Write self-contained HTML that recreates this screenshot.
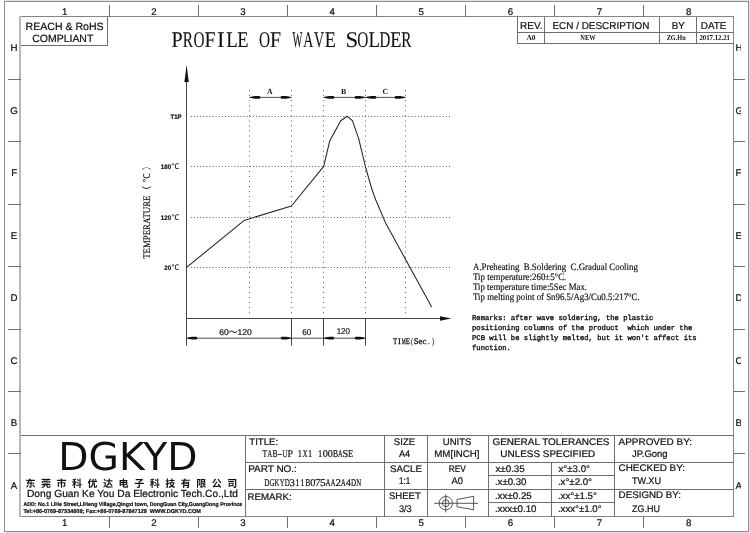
<!DOCTYPE html>
<html lang="zh">
<head>
<meta charset="utf-8">
<title>PROFILE OF WAVE SOLDER</title>
<style>
html,body{margin:0;padding:0;background:#fff;}
body{width:750px;height:533px;overflow:hidden;}
svg{display:block;will-change:transform;}
text{white-space:pre;}
.a{font-family:"Liberation Sans",sans-serif;stroke:#111;stroke-width:0.22px;}
.a2{font-family:"Liberation Sans","Noto Sans CJK SC",sans-serif;stroke:#111;stroke-width:0.2px;}
.s{font-family:"Liberation Serif",serif;}
.m{font-family:"Liberation Serif","Noto Serif CJK SC",serif;}
.k{font-family:"Liberation Mono",monospace;}
.d{font-family:"DejaVu Sans","Liberation Sans",sans-serif;}
.n{font-family:"Liberation Sans","Noto Sans CJK SC",sans-serif;}
</style>
</head>
<body>
<svg width="750" height="533" viewBox="0 0 750 533" text-rendering="geometricPrecision">
<rect width="750" height="533" fill="#fff"/>
<g shape-rendering="crispEdges" fill="none" stroke="#6e6e6e" stroke-width="1">
<path stroke="#8e8e8e" d="M4.5 1.5H748.5V531.5H4.5Z"/>
<path stroke="#e2e2e2" d="M4 0.5H750M5 532.5H750M749.5 1V533"/>
<path stroke="#858585" d="M20 16.5H733.5V516.5H20"/>
<path stroke="#b8b8b8" stroke-width="2" d="M20 16V517"/>
<path d="M109.5 4.5V16.5M109.5 516.5V527.5"/>
<path d="M8 79.5H20.5M733.5 79.5H745"/>
<path d="M198.5 4.5V16.5M198.5 516.5V527.5"/>
<path d="M8 141.5H20.5M733.5 141.5H745"/>
<path d="M287.5 4.5V16.5M287.5 516.5V527.5"/>
<path d="M8 204.5H20.5M733.5 204.5H745"/>
<path d="M376.5 4.5V16.5M376.5 516.5V527.5"/>
<path d="M8 266.5H20.5M733.5 266.5H745"/>
<path d="M465.5 4.5V16.5M465.5 516.5V527.5"/>
<path d="M8 329.5H20.5M733.5 329.5H745"/>
<path d="M554.5 4.5V16.5M554.5 516.5V527.5"/>
<path d="M8 391.5H20.5M733.5 391.5H745"/>
<path d="M643.5 4.5V16.5M643.5 516.5V527.5"/>
<path d="M8 453.5H20.5M733.5 453.5H745"/>
<path d="M20.5 45.5H107.5V16.5"/>
<path d="M517.5 16.5V43.5H733.5M517.5 32.5H733.5M544.5 16.5V43.5M659.5 16.5V43.5M696.5 16.5V43.5"/>
<path d="M20.5 435.5H733.5M245.5 435.5V516.5M384.5 435.5V516.5M427.5 435.5V516.5M488.5 435.5V516.5M614.5 435.5V516.5M551.5 462.5V516.5"/>
<path d="M245.5 462.5H733.5M245.5 489.5H733.5M488.5 475.5H614.5M488.5 502.5H614.5"/>
</g>
<svg x="0" y="8.6" width="750" height="8" viewBox="0 8.6 750 8" overflow="hidden">
<text class="a" x="64.8" y="15" font-size="9.7" text-anchor="middle" fill="#111" >1</text>
<text class="a" x="153.9" y="15" font-size="9.7" text-anchor="middle" fill="#111" >2</text>
<text class="a" x="243.0" y="15" font-size="9.7" text-anchor="middle" fill="#111" >3</text>
<text class="a" x="332.1" y="15" font-size="9.7" text-anchor="middle" fill="#111" >4</text>
<text class="a" x="421.3" y="15" font-size="9.7" text-anchor="middle" fill="#111" >5</text>
<text class="a" x="510.4" y="15" font-size="9.7" text-anchor="middle" fill="#111" >6</text>
<text class="a" x="599.5" y="15" font-size="9.7" text-anchor="middle" fill="#111" >7</text>
<text class="a" x="688.6" y="15" font-size="9.7" text-anchor="middle" fill="#111" >8</text>
</svg>
<text class="a" x="64.8" y="526" font-size="9.7" text-anchor="middle" fill="#111" >1</text>
<text class="a" x="14.1" y="51.0" font-size="9.7" text-anchor="middle" fill="#111" >H</text>
<text class="a" x="153.9" y="526" font-size="9.7" text-anchor="middle" fill="#111" >2</text>
<text class="a" x="14.1" y="113.5" font-size="9.7" text-anchor="middle" fill="#111" >G</text>
<text class="a" x="243.0" y="526" font-size="9.7" text-anchor="middle" fill="#111" >3</text>
<text class="a" x="14.1" y="176.1" font-size="9.7" text-anchor="middle" fill="#111" >F</text>
<text class="a" x="332.1" y="526" font-size="9.7" text-anchor="middle" fill="#111" >4</text>
<text class="a" x="14.1" y="238.6" font-size="9.7" text-anchor="middle" fill="#111" >E</text>
<text class="a" x="421.3" y="526" font-size="9.7" text-anchor="middle" fill="#111" >5</text>
<text class="a" x="14.1" y="301.1" font-size="9.7" text-anchor="middle" fill="#111" >D</text>
<text class="a" x="510.4" y="526" font-size="9.7" text-anchor="middle" fill="#111" >6</text>
<text class="a" x="14.1" y="363.6" font-size="9.7" text-anchor="middle" fill="#111" >C</text>
<text class="a" x="599.5" y="526" font-size="9.7" text-anchor="middle" fill="#111" >7</text>
<text class="a" x="14.1" y="426.1" font-size="9.7" text-anchor="middle" fill="#111" >B</text>
<text class="a" x="688.6" y="526" font-size="9.7" text-anchor="middle" fill="#111" >8</text>
<text class="a" x="14.1" y="488.6" font-size="9.7" text-anchor="middle" fill="#111" >A</text>
<svg x="734" y="0" width="7.0" height="533" overflow="hidden">
<text class="a" x="1.5" y="51.0" font-size="9.7" fill="#111" >H</text>
<text class="a" x="1.5" y="113.5" font-size="9.7" fill="#111" >G</text>
<text class="a" x="1.5" y="176.1" font-size="9.7" fill="#111" >F</text>
<text class="a" x="1.5" y="238.6" font-size="9.7" fill="#111" >E</text>
<text class="a" x="1.5" y="301.1" font-size="9.7" fill="#111" >D</text>
<text class="a" x="1.5" y="363.6" font-size="9.7" fill="#111" >C</text>
<text class="a" x="1.5" y="426.1" font-size="9.7" fill="#111" >B</text>
<text class="a" x="1.5" y="488.6" font-size="9.7" fill="#111" >A</text>
</svg>
<text class="a" x="64.6" y="29.8" font-size="10.5" text-anchor="middle" textLength="78" lengthAdjust="spacingAndGlyphs" fill="#111" >REACH &amp; RoHS</text>
<text class="a" x="62.8" y="41.7" font-size="10.5" text-anchor="middle" textLength="61" lengthAdjust="spacingAndGlyphs" fill="#111" >COMPLIANT</text>
<text class="a" x="531.2" y="29.3" font-size="10" text-anchor="middle" textLength="22.5" lengthAdjust="spacingAndGlyphs" fill="#111" >REV.</text>
<text class="a" x="601" y="29.3" font-size="10" text-anchor="middle" textLength="97" lengthAdjust="spacingAndGlyphs" fill="#111" >ECN / DESCRIPTION</text>
<text class="a" x="678.2" y="29.3" font-size="10" text-anchor="middle" textLength="13" lengthAdjust="spacingAndGlyphs" fill="#111" >BY</text>
<text class="a" x="713.6" y="29.3" font-size="10" text-anchor="middle" textLength="25.5" lengthAdjust="spacingAndGlyphs" fill="#111" >DATE</text>
<text class="s" x="531" y="40.4" font-size="7.5" text-anchor="middle" font-weight="bold" fill="#111" >A0</text>
<text class="s" x="588" y="40.4" font-size="7.5" text-anchor="middle" textLength="15.4" lengthAdjust="spacingAndGlyphs" font-weight="bold" fill="#111" >NEW</text>
<text class="s" x="676.2" y="40.4" font-size="7.5" text-anchor="middle" textLength="19" lengthAdjust="spacingAndGlyphs" font-weight="bold" fill="#111" >ZG.Hu</text>
<text class="s" x="714.7" y="40.4" font-size="7.5" text-anchor="middle" textLength="30.5" lengthAdjust="spacingAndGlyphs" font-weight="bold" fill="#111" >2017.12.21</text>
<text class="s" y="46.9" font-size="22.4" fill="#111" xml:space="preserve" stroke="#111" stroke-width="0.1"><tspan x="171.61" textLength="11.14" lengthAdjust="spacingAndGlyphs">P</tspan><tspan x="182.67" textLength="10.21" lengthAdjust="spacingAndGlyphs">R</tspan><tspan x="193.39" textLength="11.05" lengthAdjust="spacingAndGlyphs">O</tspan><tspan x="204.40" textLength="11.04" lengthAdjust="spacingAndGlyphs">F</tspan><tspan x="216.96" textLength="7.60" lengthAdjust="spacingAndGlyphs">I</tspan><tspan x="226.30" textLength="11.41" lengthAdjust="spacingAndGlyphs">L</tspan><tspan x="237.23" textLength="11.22" lengthAdjust="spacingAndGlyphs">E</tspan> <tspan x="258.97" textLength="11.05" lengthAdjust="spacingAndGlyphs">O</tspan><tspan x="269.98" textLength="11.04" lengthAdjust="spacingAndGlyphs">F</tspan> <tspan x="292.38" textLength="9.86" lengthAdjust="spacingAndGlyphs">W</tspan><tspan x="303.18" textLength="10.01" lengthAdjust="spacingAndGlyphs">A</tspan><tspan x="314.11" textLength="10.07" lengthAdjust="spacingAndGlyphs">V</tspan><tspan x="324.67" textLength="11.22" lengthAdjust="spacingAndGlyphs">E</tspan> <tspan x="345.61" textLength="12.63" lengthAdjust="spacingAndGlyphs">S</tspan><tspan x="357.34" textLength="11.05" lengthAdjust="spacingAndGlyphs">O</tspan><tspan x="368.39" textLength="11.41" lengthAdjust="spacingAndGlyphs">L</tspan><tspan x="379.41" textLength="10.83" lengthAdjust="spacingAndGlyphs">D</tspan><tspan x="390.25" textLength="11.22" lengthAdjust="spacingAndGlyphs">E</tspan><tspan x="401.27" textLength="10.21" lengthAdjust="spacingAndGlyphs">R</tspan></text>
<g fill="none" stroke="#5c5c5c" stroke-width="1">
<line x1="190.83" y1="116.5" x2="452" y2="116.5" stroke-dasharray="1 2.11"/>
<line x1="190.83" y1="166.5" x2="452" y2="166.5" stroke-dasharray="1 2.11"/>
<line x1="190.83" y1="217.5" x2="452" y2="217.5" stroke-dasharray="1 2.11"/>
<line x1="190.83" y1="267.5" x2="452" y2="267.5" stroke-dasharray="1 2.11"/>
<line x1="249.5" y1="90.1" x2="249.5" y2="315" stroke-dasharray="1 4.048"/>
<line x1="291.5" y1="90.1" x2="291.5" y2="315" stroke-dasharray="1 4.048"/>
<line x1="323.5" y1="90.1" x2="323.5" y2="315" stroke-dasharray="1 4.048"/>
<line x1="365.5" y1="90.1" x2="365.5" y2="315" stroke-dasharray="1 4.048"/>
<line x1="405.5" y1="90.1" x2="405.5" y2="315" stroke-dasharray="1 4.048"/>
</g>
<g fill="none" stroke="#454545" stroke-width="1">
<path d="M186.5 80V345.5M186.5 318.5H442M291.5 318.5V345.5M323.5 318.5V345.5M365.5 318.5V345.5"/>
<path stroke-width="0.95" d="M186.6 338.2H365.5M249.5 97.4H291.5M323.5 97.4H405.5"/>
<path stroke="#222" stroke-width="1.05" stroke-linejoin="round" d="M186.6 267.4L244.2 220.4L291.4 206L323.7 166.3L329.6 141.3L340.7 120.7L347.1 116.3L352.4 120.7L358.7 138.7L365.5 167L372 189.6L375.8 200L385.9 223.6L431.7 307"/>
</g>
<polygon fill="#111" points="186.60,65.00 188.80,82.00 184.40,82.00"/>
<polygon fill="#111" points="451.50,318.50 440.00,320.80 440.00,316.20"/>
<polygon fill="#111" points="249.50,97.40 252.00,96.59 255.44,96.10 259.50,96.10 260.30,96.82 260.30,97.98 259.50,98.70 255.44,98.70 252.00,98.21"/>
<polygon fill="#111" points="291.50,97.40 289.00,98.21 285.56,98.70 281.50,98.70 280.70,97.98 280.70,96.82 281.50,96.10 285.56,96.10 289.00,96.59"/>
<polygon fill="#111" points="323.50,97.40 326.00,96.59 329.44,96.10 333.50,96.10 334.30,96.82 334.30,97.98 333.50,98.70 329.44,98.70 326.00,98.21"/>
<polygon fill="#111" points="365.50,97.40 363.00,98.21 359.56,98.70 355.50,98.70 354.70,97.98 354.70,96.82 355.50,96.10 359.56,96.10 363.00,96.59"/>
<polygon fill="#111" points="365.50,97.40 368.00,96.59 371.44,96.10 375.50,96.10 376.30,96.82 376.30,97.98 375.50,98.70 371.44,98.70 368.00,98.21"/>
<polygon fill="#111" points="405.50,97.40 403.00,98.21 399.56,98.70 395.50,98.70 394.70,97.98 394.70,96.82 395.50,96.10 399.56,96.10 403.00,96.59"/>
<polygon fill="#111" points="186.60,338.20 189.10,337.36 192.43,336.85 196.40,336.85 197.20,337.59 197.20,338.81 196.40,339.55 192.43,339.55 189.10,339.04"/>
<polygon fill="#111" points="291.50,338.20 289.00,339.04 285.67,339.55 281.70,339.55 280.90,338.81 280.90,337.59 281.70,336.85 285.67,336.85 289.00,337.36"/>
<polygon fill="#111" points="323.50,338.20 326.00,337.36 329.33,336.85 333.30,336.85 334.10,337.59 334.10,338.81 333.30,339.55 329.33,339.55 326.00,339.04"/>
<polygon fill="#111" points="365.50,338.20 363.00,339.04 359.67,339.55 355.70,339.55 354.90,338.81 354.90,337.59 355.70,336.85 359.67,336.85 363.00,337.36"/>
<text class="s" x="269.9" y="93.9" font-size="7.8" text-anchor="middle" font-weight="bold" fill="#111" >A</text>
<text class="s" x="343.5" y="93.9" font-size="7.8" text-anchor="middle" font-weight="bold" fill="#111" >B</text>
<text class="s" x="385.2" y="93.9" font-size="7.8" text-anchor="middle" font-weight="bold" fill="#111" >C</text>
<text class="a" x="181.5" y="118.7" font-size="6.6" text-anchor="end" textLength="11.0" lengthAdjust="spacingAndGlyphs" font-weight="bold" fill="#111" >T1P</text>
<text y="169.0" fill="#111"><tspan class="a" x="160.8" font-size="6.6" font-weight="bold" textLength="10.4" lengthAdjust="spacingAndGlyphs">180</tspan><tspan class="n" x="171.6" font-size="7.6" font-weight="500" textLength="8" lengthAdjust="spacingAndGlyphs">℃</tspan></text>
<text y="219.8" fill="#111"><tspan class="a" x="160.8" font-size="6.6" font-weight="bold" textLength="10.4" lengthAdjust="spacingAndGlyphs">120</tspan><tspan class="n" x="171.6" font-size="7.6" font-weight="500" textLength="8" lengthAdjust="spacingAndGlyphs">℃</tspan></text>
<text y="269.8" fill="#111"><tspan class="a" x="164.3" font-size="6.6" font-weight="bold" textLength="6.9" lengthAdjust="spacingAndGlyphs">20</tspan><tspan class="n" x="171.6" font-size="7.6" font-weight="500" textLength="8" lengthAdjust="spacingAndGlyphs">℃</tspan></text>
<text class="a2" x="235.5" y="334.9" font-size="8.4" text-anchor="middle" textLength="32.5" lengthAdjust="spacingAndGlyphs" fill="#111" >60～120</text>
<text class="a2" x="306.8" y="334.8" font-size="8.4" text-anchor="middle" textLength="9" lengthAdjust="spacingAndGlyphs" fill="#111" >60</text>
<text class="a2" x="343.3" y="334.1" font-size="8.4" text-anchor="middle" textLength="13.2" lengthAdjust="spacingAndGlyphs" fill="#111" >120</text>
<text class="s" y="344.2" font-size="8.6" fill="#111" xml:space="preserve" stroke="#111" stroke-width="0.3"><tspan x="393.34" textLength="3.88" lengthAdjust="spacingAndGlyphs">T</tspan><tspan x="398.03" textLength="2.87" lengthAdjust="spacingAndGlyphs">I</tspan><tspan x="401.68" textLength="4.00" lengthAdjust="spacingAndGlyphs">M</tspan><tspan x="405.82" textLength="4.21" lengthAdjust="spacingAndGlyphs">E</tspan><tspan x="411.26" textLength="1.57" lengthAdjust="spacingAndGlyphs">(</tspan><tspan x="413.86" textLength="4.75" lengthAdjust="spacingAndGlyphs">S</tspan><tspan x="418.43" textLength="3.93" lengthAdjust="spacingAndGlyphs">e</tspan><tspan x="422.62" textLength="3.93" lengthAdjust="spacingAndGlyphs">c</tspan><tspan x="428.02" textLength="1.64" lengthAdjust="spacingAndGlyphs">.</tspan><tspan x="432.27" textLength="1.57" lengthAdjust="spacingAndGlyphs">)</tspan></text>
<g transform="translate(150.3,258.8) rotate(-90)">
<text class="m" x="0" y="0" font-size="10" textLength="63.2" lengthAdjust="spacingAndGlyphs" fill="#111" stroke="#111" stroke-width="0.2">TEMPERATURE</text>
<text class="n" y="0" font-size="9.4" fill="#111"><tspan x="63.6">（</tspan><tspan x="76.6">℃</tspan><tspan x="88.6">）</tspan></text>
</g>
<text class="s" x="473" y="270.0" font-size="9.8" textLength="164.8" lengthAdjust="spacingAndGlyphs" fill="#111" xml:space="preserve" stroke="#111" stroke-width="0.18">A.Preheating  B.Soldering  C.Gradual Cooling</text>
<text class="s" x="473" y="280.0" font-size="9.8" textLength="93.3" lengthAdjust="spacingAndGlyphs" fill="#111" xml:space="preserve" stroke="#111" stroke-width="0.18">Tip temperature:260±5°C.</text>
<text class="s" x="473" y="290.0" font-size="9.8" textLength="114" lengthAdjust="spacingAndGlyphs" fill="#111" xml:space="preserve" stroke="#111" stroke-width="0.18">Tip temperature time:5Sec Max.</text>
<text class="s" x="473" y="300.0" font-size="9.8" textLength="166.7" lengthAdjust="spacingAndGlyphs" fill="#111" xml:space="preserve" stroke="#111" stroke-width="0.18">Tip melting point of Sn96.5/Ag3/Cu0.5:217°C.</text>
<text class="k" x="472" y="319.7" font-size="7.3" textLength="181.4" lengthAdjust="spacingAndGlyphs" fill="#111" xml:space="preserve" stroke="#111" stroke-width="0.36">Remarks: after wave soldering, the plastic</text>
<text class="k" x="472" y="329.95" font-size="7.3" textLength="220.3" lengthAdjust="spacingAndGlyphs" fill="#111" xml:space="preserve" stroke="#111" stroke-width="0.36">positioning columns of the product  which under the</text>
<text class="k" x="472" y="340.2" font-size="7.3" textLength="224.6" lengthAdjust="spacingAndGlyphs" fill="#111" xml:space="preserve" stroke="#111" stroke-width="0.36">PCB will be slightly melted, but it won't affect its</text>
<text class="k" x="472" y="350.45" font-size="7.3" textLength="38.9" lengthAdjust="spacingAndGlyphs" fill="#111" xml:space="preserve" stroke="#111" stroke-width="0.36">function.</text>
<text class="d" x="58.3" y="470.4" font-size="38.4" textLength="139.2" lengthAdjust="spacingAndGlyphs" fill="#111" >DGKYD</text>
<text class="n" x="25.5" y="487" font-size="10" font-weight="bold" fill="#111" letter-spacing="5.52">东莞市科优达电子科技有限公司</text>
<text class="a" x="27.0" y="497.1" font-size="10.3" textLength="211" lengthAdjust="spacingAndGlyphs" fill="#111" >Dong Guan Ke You Da Electronic Tech.Co.,Ltd</text>
<text class="a" x="23.4" y="506" font-size="5.6" textLength="218.8" lengthAdjust="spacingAndGlyphs" font-weight="bold" fill="#111" >ADD: No.1 LiHe Street,LiHeng Village,Qingxi town, DongGuan City,GuangDong Province</text>
<text class="a" x="23.4" y="513" font-size="5.6" textLength="177.5" lengthAdjust="spacingAndGlyphs" font-weight="bold" fill="#111" xml:space="preserve">Tel:+86-0769-87334608; Fax:+86-0769-87847129  WWW.DGKYD.COM</text>
<text class="a" x="249.3" y="445.1" font-size="9.6" textLength="28.8" lengthAdjust="spacingAndGlyphs" fill="#111" >TITLE:</text>
<text class="s" y="457.0" font-size="10.4" fill="#111" xml:space="preserve" stroke="#111" stroke-width="0.2"><tspan x="262.48" textLength="4.72" lengthAdjust="spacingAndGlyphs">T</tspan><tspan x="267.53" textLength="4.60" lengthAdjust="spacingAndGlyphs">A</tspan><tspan x="272.41" textLength="5.07" lengthAdjust="spacingAndGlyphs">B</tspan><tspan x="277.74" textLength="4.49" lengthAdjust="spacingAndGlyphs">-</tspan><tspan x="282.58" textLength="4.80" lengthAdjust="spacingAndGlyphs">U</tspan><tspan x="287.49" textLength="5.14" lengthAdjust="spacingAndGlyphs">P</tspan> <tspan x="297.85" textLength="4.25" lengthAdjust="spacingAndGlyphs">1</tspan><tspan x="302.75" textLength="4.73" lengthAdjust="spacingAndGlyphs">X</tspan><tspan x="307.93" textLength="4.25" lengthAdjust="spacingAndGlyphs">1</tspan> <tspan x="318.01" textLength="4.25" lengthAdjust="spacingAndGlyphs">1</tspan><tspan x="322.74" textLength="5.13" lengthAdjust="spacingAndGlyphs">0</tspan><tspan x="327.78" textLength="5.13" lengthAdjust="spacingAndGlyphs">0</tspan><tspan x="332.89" textLength="5.07" lengthAdjust="spacingAndGlyphs">B</tspan><tspan x="338.09" textLength="4.60" lengthAdjust="spacingAndGlyphs">A</tspan><tspan x="342.60" textLength="5.70" lengthAdjust="spacingAndGlyphs">S</tspan><tspan x="347.99" textLength="5.15" lengthAdjust="spacingAndGlyphs">E</tspan></text>
<text class="a" x="248.2" y="471.8" font-size="9.6" textLength="48.7" lengthAdjust="spacingAndGlyphs" fill="#111" >PART NO.:</text>
<text class="s" y="485.9" font-size="10.4" fill="#111" xml:space="preserve" stroke="#111" stroke-width="0.2"><tspan x="264.35" textLength="5.07" lengthAdjust="spacingAndGlyphs">D</tspan><tspan x="269.38" textLength="5.07" lengthAdjust="spacingAndGlyphs">G</tspan><tspan x="274.56" textLength="4.79" lengthAdjust="spacingAndGlyphs">K</tspan><tspan x="279.79" textLength="4.79" lengthAdjust="spacingAndGlyphs">Y</tspan><tspan x="284.75" textLength="5.07" lengthAdjust="spacingAndGlyphs">D</tspan><tspan x="289.64" textLength="5.42" lengthAdjust="spacingAndGlyphs">3</tspan><tspan x="295.18" textLength="4.30" lengthAdjust="spacingAndGlyphs">1</tspan><tspan x="300.28" textLength="4.30" lengthAdjust="spacingAndGlyphs">1</tspan><tspan x="305.13" textLength="5.14" lengthAdjust="spacingAndGlyphs">B</tspan><tspan x="310.16" textLength="5.19" lengthAdjust="spacingAndGlyphs">0</tspan><tspan x="314.91" textLength="5.55" lengthAdjust="spacingAndGlyphs">7</tspan><tspan x="320.00" textLength="5.68" lengthAdjust="spacingAndGlyphs">5</tspan><tspan x="325.69" textLength="4.66" lengthAdjust="spacingAndGlyphs">A</tspan><tspan x="330.79" textLength="4.66" lengthAdjust="spacingAndGlyphs">A</tspan><tspan x="335.53" textLength="5.55" lengthAdjust="spacingAndGlyphs">2</tspan><tspan x="340.99" textLength="4.66" lengthAdjust="spacingAndGlyphs">A</tspan><tspan x="345.97" textLength="4.87" lengthAdjust="spacingAndGlyphs">4</tspan><tspan x="351.05" textLength="5.07" lengthAdjust="spacingAndGlyphs">D</tspan><tspan x="356.16" textLength="4.92" lengthAdjust="spacingAndGlyphs">N</tspan></text>
<text class="a" x="247.6" y="499.8" font-size="9.6" textLength="44" lengthAdjust="spacingAndGlyphs" fill="#111" >REMARK:</text>
<text class="a" x="404.5" y="445.1" font-size="9.6" text-anchor="middle" textLength="21.3" lengthAdjust="spacingAndGlyphs" fill="#111" >SIZE</text>
<text class="a" x="404.6" y="457.2" font-size="9.6" text-anchor="middle" textLength="11.3" lengthAdjust="spacingAndGlyphs" fill="#111" >A4</text>
<text class="a" x="405.9" y="471.9" font-size="9.6" text-anchor="middle" textLength="32" lengthAdjust="spacingAndGlyphs" fill="#111" >SACLE</text>
<text class="a" x="404.6" y="484.3" font-size="9.6" text-anchor="middle" textLength="11.3" lengthAdjust="spacingAndGlyphs" fill="#111" >1:1</text>
<text class="a" x="404.9" y="499.4" font-size="9.6" text-anchor="middle" textLength="32" lengthAdjust="spacingAndGlyphs" fill="#111" >SHEET</text>
<text class="a" x="405.3" y="511.8" font-size="9.6" text-anchor="middle" textLength="12.8" lengthAdjust="spacingAndGlyphs" fill="#111" >3/3</text>
<text class="a" x="457.1" y="445.1" font-size="9.6" text-anchor="middle" textLength="28.6" lengthAdjust="spacingAndGlyphs" fill="#111" >UNITS</text>
<text class="a" x="456.9" y="457.2" font-size="9.6" text-anchor="middle" textLength="45.2" lengthAdjust="spacingAndGlyphs" fill="#111" >MM[INCH]</text>
<text class="a" x="457.2" y="471.9" font-size="9.6" text-anchor="middle" textLength="17.1" lengthAdjust="spacingAndGlyphs" fill="#111" >REV</text>
<text class="a" x="457.2" y="484.3" font-size="9.6" text-anchor="middle" textLength="11.5" lengthAdjust="spacingAndGlyphs" fill="#111" >A0</text>
<text class="a" x="492.4" y="445.1" font-size="9.6" textLength="117.1" lengthAdjust="spacingAndGlyphs" fill="#111" >GENERAL TOLERANCES</text>
<text class="a" x="500.3" y="457.2" font-size="9.6" textLength="94.9" lengthAdjust="spacingAndGlyphs" fill="#111" >UNLESS SPECIFIED</text>
<text class="a" x="495.4" y="472.2" font-size="9.6" textLength="29.4" lengthAdjust="spacingAndGlyphs" fill="#111" >x±0.35</text>
<text class="a" x="494.9" y="485.2" font-size="9.6" textLength="31.6" lengthAdjust="spacingAndGlyphs" fill="#111" >.x±0.30</text>
<text class="a" x="494.9" y="499.4" font-size="9.6" textLength="36.9" lengthAdjust="spacingAndGlyphs" fill="#111" >.xx±0.25</text>
<text class="a" x="494.9" y="512.3" font-size="9.6" textLength="41.6" lengthAdjust="spacingAndGlyphs" fill="#111" >.xxx±0.10</text>
<text class="a" x="558.5" y="472.2" font-size="9.6" textLength="31.4" lengthAdjust="spacingAndGlyphs" fill="#111" >x°±3.0°</text>
<text class="a" x="557.9" y="485.2" font-size="9.6" textLength="34.1" lengthAdjust="spacingAndGlyphs" fill="#111" >.x°±2.0°</text>
<text class="a" x="557.9" y="499.4" font-size="9.6" textLength="39" lengthAdjust="spacingAndGlyphs" fill="#111" >.xx°±1.5°</text>
<text class="a" x="557.9" y="512.3" font-size="9.6" textLength="43.7" lengthAdjust="spacingAndGlyphs" fill="#111" >.xxx°±1.0°</text>
<text class="a" x="618.6" y="445" font-size="9.6" textLength="73.4" lengthAdjust="spacingAndGlyphs" fill="#111" >APPROVED BY:</text>
<text class="a" x="632" y="457.1" font-size="9.6" textLength="35.6" lengthAdjust="spacingAndGlyphs" fill="#111" >JP.Gong</text>
<text class="a" x="618.6" y="471" font-size="9.6" textLength="66.4" lengthAdjust="spacingAndGlyphs" fill="#111" >CHECKED BY:</text>
<text class="a" x="632" y="484" font-size="9.6" textLength="29" lengthAdjust="spacingAndGlyphs" fill="#111" >TW.XU</text>
<text class="a" x="618.6" y="498" font-size="9.6" textLength="62.4" lengthAdjust="spacingAndGlyphs" fill="#111" >DESIGND BY:</text>
<text class="a" x="632" y="512" font-size="9.6" textLength="28" lengthAdjust="spacingAndGlyphs" fill="#111" >ZG.HU</text>
<g fill="none" stroke="#3a3a3a" stroke-width="0.85">
<circle cx="445.8" cy="503.2" r="6.7"/><circle cx="445.8" cy="503.2" r="3.4"/>
<path d="M434.2 503.3H478M445.7 494.2V512.4M457 499.5V506.8L473.6 509.7V496.3Z"/>
</g>
</svg>
</body>
</html>
